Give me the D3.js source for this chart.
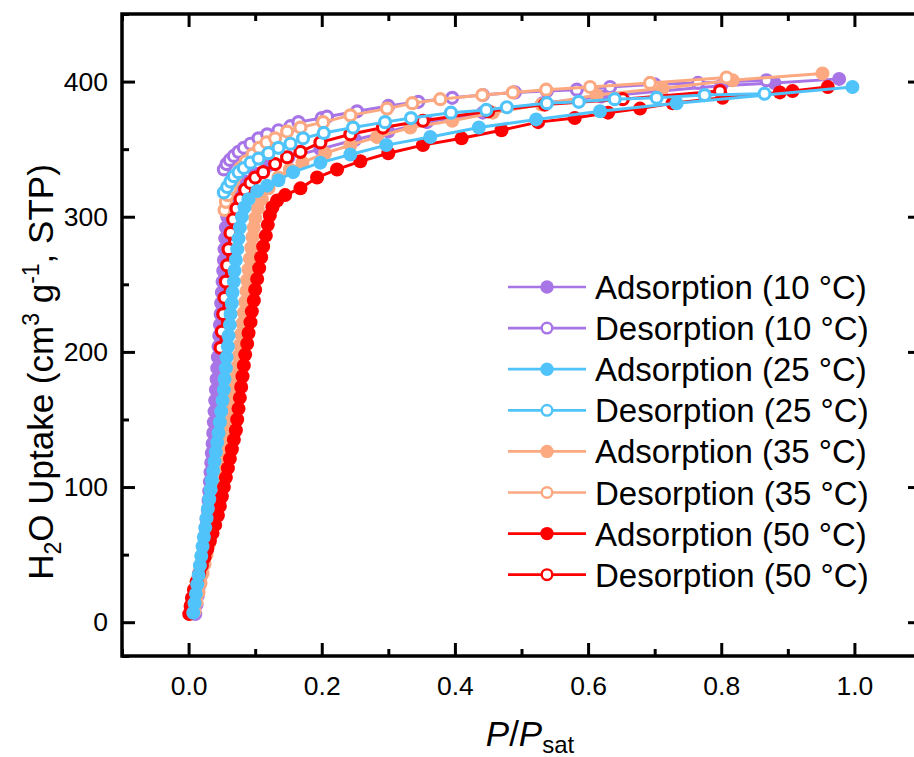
<!DOCTYPE html>
<html>
<head>
<meta charset="utf-8">
<script src="https://cdn.jsdelivr.net/npm/d3@7"></script>
<style>
body { margin: 0; background: #fff; }
svg { display: block; font-family: "Liberation Sans", Arial, sans-serif; }
</style>
</head>
<body>
<div id="chart"></div>
<script>
// water isotherms as [P/Psat, uptake]
var ads10 = [[0.010,6],[0.012,13],[0.014,20],[0.016,27],[0.018,34],[0.020,41],[0.022,48],[0.023,55],[0.025,62],[0.026,69],[0.027,76],[0.029,83],[0.030,90],[0.031,97],[0.032,104],[0.033,111],[0.034,118],[0.035,125],[0.036,132],[0.037,140],[0.038,148],[0.039,156],[0.040,164],[0.041,172],[0.042,180],[0.043,188],[0.044,196],[0.045,204],[0.046,212],[0.047,220],[0.048,228],[0.049,236],[0.050,244],[0.051,252],[0.052,260],[0.053,268],[0.054,276],[0.055,284],[0.056,292],[0.058,300],[0.060,307],[0.064,313],[0.072,319],[0.085,326],[0.100,332],[0.120,338],[0.150,344],[0.198,350],[0.250,357],[0.300,363],[0.358,370],[0.442,377],[0.532,384],[0.620,389],[0.710,393],[0.800,397],[0.880,399],[0.977,402]];
var des10 = [[0.053,335],[0.057,339],[0.062,342],[0.068,345],[0.075,348],[0.083,351],[0.093,354],[0.105,358],[0.118,361],[0.135,364],[0.153,367],[0.165,370],[0.200,373],[0.208,374],[0.253,378],[0.300,382],[0.345,385],[0.396,388],[0.442,390],[0.490,392],[0.538,393],[0.583,394],[0.633,396],[0.700,398],[0.765,399],[0.868,401]];
var ads25 = [[0.007,7],[0.009,14],[0.011,21],[0.013,28],[0.015,35],[0.017,42],[0.019,49],[0.021,56],[0.023,63],[0.025,70],[0.027,77],[0.029,84],[0.031,91],[0.033,98],[0.035,105],[0.037,112],[0.039,119],[0.041,126],[0.043,133],[0.045,140],[0.047,148],[0.049,156],[0.051,164],[0.053,172],[0.054,180],[0.056,188],[0.057,196],[0.059,204],[0.060,212],[0.062,220],[0.063,228],[0.065,236],[0.066,244],[0.068,252],[0.069,260],[0.071,268],[0.073,276],[0.075,284],[0.077,292],[0.080,300],[0.084,307],[0.090,313],[0.103,319],[0.118,323],[0.135,327],[0.157,333],[0.198,340],[0.243,346],[0.297,353],[0.363,359],[0.436,366],[0.522,372],[0.618,378],[0.733,384],[0.997,396]];
var des25 = [[0.053,318],[0.058,322],[0.063,326],[0.068,330],[0.075,333],[0.083,336],[0.093,340],[0.105,343],[0.120,347],[0.135,351],[0.153,354],[0.172,358],[0.203,362],[0.247,366],[0.295,370],[0.334,373],[0.394,377],[0.447,379],[0.478,381],[0.538,384],[0.586,385],[0.640,387],[0.703,388],[0.775,390],[0.865,391]];
var ads35 = [[0.009,8],[0.012,15],[0.015,22],[0.018,29],[0.021,36],[0.024,43],[0.027,50],[0.030,57],[0.033,64],[0.036,71],[0.039,78],[0.042,85],[0.044,92],[0.047,99],[0.049,106],[0.052,113],[0.054,120],[0.056,127],[0.059,134],[0.061,141],[0.063,149],[0.065,157],[0.067,165],[0.069,173],[0.071,181],[0.073,189],[0.075,197],[0.077,205],[0.079,213],[0.081,221],[0.083,229],[0.085,237],[0.087,245],[0.088,253],[0.090,261],[0.092,269],[0.094,277],[0.096,285],[0.098,292],[0.100,299],[0.104,306],[0.110,313],[0.120,321],[0.135,329],[0.152,335],[0.171,340],[0.205,347],[0.243,353],[0.283,359],[0.333,366],[0.396,371],[0.457,377],[0.530,383],[0.613,390],[0.712,395],[0.817,401],[0.952,406]];
var des35 = [[0.054,305],[0.056,311],[0.059,316],[0.063,321],[0.067,326],[0.072,331],[0.078,336],[0.086,341],[0.096,346],[0.106,351],[0.117,355],[0.130,358],[0.148,363],[0.168,366],[0.202,370],[0.243,375],[0.298,380],[0.336,384],[0.378,387],[0.441,390],[0.487,392],[0.537,394],[0.603,396],[0.693,399],[0.808,403]];
var ads50 = [[0.001,6],[0.003,12],[0.005,18],[0.008,24],[0.012,30],[0.016,36],[0.020,42],[0.024,48],[0.028,54],[0.032,60],[0.036,66],[0.040,72],[0.044,79],[0.047,86],[0.050,93],[0.053,100],[0.056,107],[0.059,114],[0.062,121],[0.065,128],[0.068,135],[0.071,142],[0.073,150],[0.075,158],[0.077,166],[0.079,174],[0.081,182],[0.083,190],[0.085,198],[0.088,206],[0.090,214],[0.093,222],[0.095,230],[0.098,238],[0.100,246],[0.103,254],[0.106,262],[0.109,270],[0.112,278],[0.116,286],[0.119,294],[0.122,301],[0.126,307],[0.133,312],[0.145,316],[0.168,321],[0.193,329],[0.223,335],[0.258,341],[0.300,347],[0.352,353],[0.410,358],[0.470,364],[0.525,370],[0.580,373],[0.630,377],[0.678,380],[0.727,384],[0.802,388],[0.888,392],[0.907,393],[0.960,396]];
var des50 = [[0.048,203],[0.050,215],[0.052,228],[0.054,240],[0.056,252],[0.058,264],[0.060,276],[0.063,288],[0.067,298],[0.072,306],[0.078,313],[0.085,320],[0.093,325],[0.100,329],[0.112,333],[0.130,339],[0.148,344],[0.168,348],[0.198,355],[0.243,361],[0.292,366],[0.352,371],[0.450,378],[0.535,383],[0.652,387],[0.798,393]];

var legendLabels = ["Adsorption (10 °C)", "Desorption (10 °C)", "Adsorption (25 °C)", "Desorption (25 °C)",
                    "Adsorption (35 °C)", "Desorption (35 °C)", "Adsorption (50 °C)", "Desorption (50 °C)"];
var xMajor = [0, 0.2, 0.4, 0.6, 0.8, 1.0];
var xMinor = [-0.1, 0.1, 0.3, 0.5, 0.7, 0.9, 1.1];
var yMajor = [0, 100, 200, 300, 400];
var yMinor = [-25, 50, 150, 250, 350, 450];

var purple = "#A875E6", blue = "#50C4FA", salmon = "#FCA981", red = "#FF0000";

// drawing order: later ones sit on top
var series = [
  {data: ads10, color: purple, open: false},
  {data: des10, color: purple, open: true},
  {data: ads35, color: salmon, open: false},
  {data: des35, color: salmon, open: true},
  {data: ads50, color: red, open: false},
  {data: des50, color: red, open: true},
  {data: ads25, color: blue, open: false},
  {data: des25, color: blue, open: true}
];
var legendItems = [
  {color: purple, open: false}, {color: purple, open: true},
  {color: blue, open: false}, {color: blue, open: true},
  {color: salmon, open: false}, {color: salmon, open: true},
  {color: red, open: false}, {color: red, open: true}
];

// frame edges (the right one sits just past the picture edge)
var fLeft = 122, fRight = 921, fTop = 14, fBottom = 656;

var svg = d3.select("#chart").append("svg")
  .attr("width", 914)
  .attr("height", 757);

var x = d3.scaleLinear().domain([-0.1, 1.1]).range([fLeft, fRight]);
var y = d3.scaleLinear().domain([-25, 450]).range([fBottom, fTop]);

var line = d3.line()
  .x(function(d){ return x(d[0]); })
  .y(function(d){ return y(d[1]); });

series.forEach(function(s){
  var g = svg.append("g");
  g.append("path")
    .attr("d", line(s.data))
    .attr("fill", "none")
    .attr("stroke", s.color)
    .attr("stroke-width", 3);
  g.selectAll("circle").data(s.data).enter().append("circle")
    .attr("cx", function(d){ return x(d[0]); })
    .attr("cy", function(d){ return y(d[1]); })
    .attr("r", s.open ? 5.5 : 7)
    .attr("fill", s.open ? "#fff" : s.color)
    .attr("stroke", s.open ? s.color : "none")
    .attr("stroke-width", 3.2);
});

// axes, ticks all pointing inward
function styleAxis(g){
  g.attr("font-size", 26.5).attr("font-family", '"Liberation Sans", Arial, sans-serif');
  g.select(".domain").remove();
  g.selectAll(".tick line").attr("stroke", "#000").attr("stroke-width", 3);
  g.selectAll(".tick text").attr("fill", "#000");
}

svg.append("g").attr("transform", "translate(0," + fBottom + ")")
  .call(d3.axisBottom(x).tickValues(xMajor).tickSize(-13).tickPadding(20).tickFormat(d3.format(".1f")))
  .call(styleAxis);
svg.append("g").attr("transform", "translate(0," + fBottom + ")")
  .call(d3.axisBottom(x).tickValues(xMinor).tickSize(-7).tickFormat(""))
  .call(styleAxis);
svg.append("g").attr("transform", "translate(0," + fTop + ")")
  .call(d3.axisTop(x).tickValues(xMajor).tickSize(-13).tickFormat(""))
  .call(styleAxis);
svg.append("g").attr("transform", "translate(0," + fTop + ")")
  .call(d3.axisTop(x).tickValues(xMinor).tickSize(-7).tickFormat(""))
  .call(styleAxis);
svg.append("g").attr("transform", "translate(" + fLeft + ",0)")
  .call(d3.axisLeft(y).tickValues(yMajor).tickSize(-13).tickPadding(14))
  .call(styleAxis);
svg.append("g").attr("transform", "translate(" + fLeft + ",0)")
  .call(d3.axisLeft(y).tickValues(yMinor).tickSize(-7).tickFormat(""))
  .call(styleAxis);
svg.append("g").attr("transform", "translate(" + fRight + ",0)")
  .call(d3.axisRight(y).tickValues(yMajor).tickSize(-13).tickFormat(""))
  .call(styleAxis);
svg.append("g").attr("transform", "translate(" + fRight + ",0)")
  .call(d3.axisRight(y).tickValues(yMinor).tickSize(-7).tickFormat(""))
  .call(styleAxis);

svg.append("rect")
  .attr("x", fLeft).attr("y", fTop)
  .attr("width", fRight - fLeft).attr("height", fBottom - fTop)
  .attr("fill", "none").attr("stroke", "#000").attr("stroke-width", 3.5);

// axis titles
var yt = svg.append("text")
  .attr("transform", "translate(53,372) rotate(-90)")
  .attr("text-anchor", "middle")
  .attr("font-size", 35);
yt.append("tspan").text("H");
yt.append("tspan").attr("font-size", 23).attr("dy", 8).text("2");
yt.append("tspan").attr("dy", -8).text("O Uptake (cm");
yt.append("tspan").attr("font-size", 23).attr("dy", -14).text("3");
yt.append("tspan").attr("dy", 14).text(" g");
yt.append("tspan").attr("font-size", 23).attr("dy", -14).text("-1");
yt.append("tspan").attr("dy", 14).text(", STP)");

var xt = svg.append("text")
  .attr("x", 530).attr("y", 746)
  .attr("text-anchor", "middle")
  .attr("font-size", 35);
xt.append("tspan").attr("font-style", "italic").text("P");
xt.append("tspan").text("/");
xt.append("tspan").attr("font-style", "italic").text("P");
xt.append("tspan").attr("font-size", 24).attr("dy", 7).text("sat");

// legend
var leg = svg.append("g");
legendItems.forEach(function(it, i){
  var ly = 287 + i * 41.1;
  leg.append("line")
    .attr("x1", 508).attr("x2", 586).attr("y1", ly).attr("y2", ly)
    .attr("stroke", it.color).attr("stroke-width", 2.7);
  leg.append("circle")
    .attr("cx", 547).attr("cy", ly)
    .attr("r", it.open ? 5.3 : 6.7)
    .attr("fill", it.open ? "#fff" : it.color)
    .attr("stroke", it.open ? it.color : "none")
    .attr("stroke-width", 2.4);
  leg.append("text")
    .attr("x", 595).attr("y", ly + 12)
    .attr("font-size", 33)
    .text(legendLabels[i]);
});
</script>
</body>
</html>
